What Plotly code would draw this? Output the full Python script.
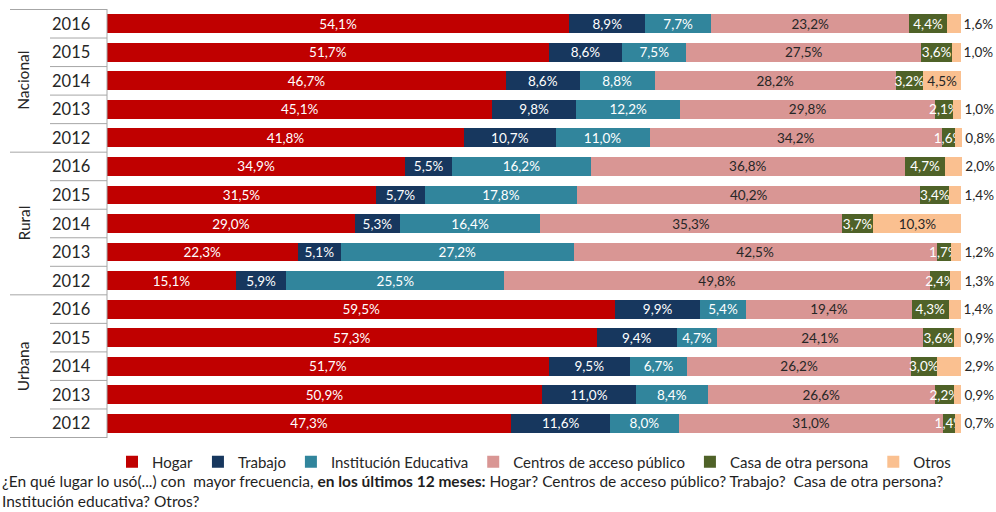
import plotly.graph_objects as go

groups = ["Nacional", "Rural", "Urbana"]
years = ["2016", "2015", "2014", "2013", "2012"]

hogar = [54.1, 51.7, 46.7, 45.1, 41.8, 34.9, 31.5, 29.0, 22.3, 15.1, 59.5, 57.3, 51.7, 50.9, 47.3]
trabajo = [8.9, 8.6, 8.6, 9.8, 10.7, 5.5, 5.7, 5.3, 5.1, 5.9, 9.9, 9.4, 9.5, 11.0, 11.6]
institucion = [7.7, 7.5, 8.8, 12.2, 11.0, 16.2, 17.8, 16.4, 27.2, 25.5, 5.4, 4.7, 6.7, 8.4, 8.0]
centros = [23.2, 27.5, 28.2, 29.8, 34.2, 36.8, 40.2, 35.3, 42.5, 49.8, 19.4, 24.1, 26.2, 26.6, 31.0]
casa = [4.4, 3.6, 3.2, 2.1, 1.6, 4.7, 3.4, 3.7, 1.7, 2.4, 4.3, 3.6, 3.0, 2.2, 1.4]
otros = [1.6, 1.0, 4.5, 1.0, 0.8, 2.0, 1.4, 10.3, 1.2, 1.3, 1.4, 0.9, 2.9, 0.9, 0.7]

series = [
    ("Hogar", hogar, "#C00000", "white"),
    ("Trabajo", trabajo, "#17375E", "white"),
    ("Institución Educativa", institucion, "#31859C", "white"),
    ("Centros de acceso público", centros, "#D99694", "#262626"),
    ("Casa de otra persona", casa, "#4F6228", "white"),
    ("Otros", otros, "#FAC090", "#262626"),
]

cats = [f"{g} {y}" for g in groups for y in years]

def fmt(v):
    return f"{v:.1f}%".replace(".", ",")

FONT = "Lato, 'Open Sans', sans-serif"

fig = go.Figure()
for name, vals, color, tcol in series:
    if name == "Otros":
        pos = ["inside" if v >= 4.5 else "outside" for v in vals]
    else:
        pos = "inside"
    fig.add_trace(go.Bar(
        y=cats, x=vals, name=name, orientation="h",
        marker=dict(color=color, line=dict(width=0)),
        text=[fmt(v) for v in vals], textposition=pos,
        insidetextanchor="middle", constraintext="none", textangle=0,
        insidetextfont=dict(color=tcol, size=13.5, family=FONT),
        outsidetextfont=dict(color="#262626", size=13.5, family=FONT),
        cliponaxis=False,
    ))

L, R, T, B = 107, 32, 9, 74
W, H = 996, 512
pw = W - L - R
ph = H - T - B

def px_x(px):
    return (px - L) / pw

def px_y(py):
    return (H - B - py) / ph

annotations = []
shapes = []
for gi, g in enumerate(groups):
    for yi, y in enumerate(years):
        annotations.append(dict(
            x=px_x(71), xref="paper", y=f"{g} {y}", yref="y",
            text=y, showarrow=False, xanchor="center", yanchor="middle",
            font=dict(size=16.5, color="#262626", family=FONT)))
    mid = gi * len(years) + (len(years) - 1) / 2
    annotations.append(dict(
        x=px_x(23), xref="paper", y=mid, yref="y",
        text=g, showarrow=False, textangle=-90, xanchor="center", yanchor="middle",
        font=dict(size=15.5, color="#262626", family=FONT)))

n = len(cats)
for i in range(n + 1):
    pos = i - 0.5
    full = (i % len(years) == 0)
    x0 = px_x(10 if full else 50)
    shapes.append(dict(type="line", xref="paper", yref="y", x0=x0, x1=0,
                       y0=pos, y1=pos, line=dict(color="#A6A6A6", width=1)))
shapes.append(dict(type="line", xref="paper", yref="paper", x0=0, x1=0,
                   y0=0, y1=1, line=dict(color="#A6A6A6", width=1)))

footnote = ("¿En qué lugar lo usó(...) con  mayor frecuencia, <b>en los últimos 12 meses:</b> "
            "Hogar? Centros de acceso público? Trabajo?  Casa de otra persona?<br>"
            "Institución educativa? Otros?")
annotations.append(dict(
    x=px_x(0), xref="paper", y=px_y(470), yref="paper",
    text=footnote, showarrow=False, xanchor="left", yanchor="top", align="left",
    font=dict(size=15.5, color="#1F1F1F", family=FONT)))

fig.update_layout(
    width=W, height=H,
    margin=dict(l=L, r=R, t=T, b=B),
    barmode="stack", bargap=0.34,
    plot_bgcolor="white", paper_bgcolor="white",
    font=dict(family=FONT, color="#262626"),
    xaxis=dict(range=[0, 100.3], visible=False, fixedrange=True),
    yaxis=dict(categoryorder="array", categoryarray=cats, autorange="reversed",
               showticklabels=False, showgrid=False, zeroline=False, fixedrange=True),
    legend=dict(orientation="h", x=px_x(112), xanchor="left",
                y=px_y(462), yanchor="middle",
                font=dict(size=15, color="#262626", family=FONT),
                itemwidth=30, traceorder="normal"),
    annotations=annotations, shapes=shapes,
    showlegend=True,
)

fig.write_html("out.html", config={"displayModeBar": False},
               post_script="document.body.style.margin='0';document.body.style.padding='0';")
